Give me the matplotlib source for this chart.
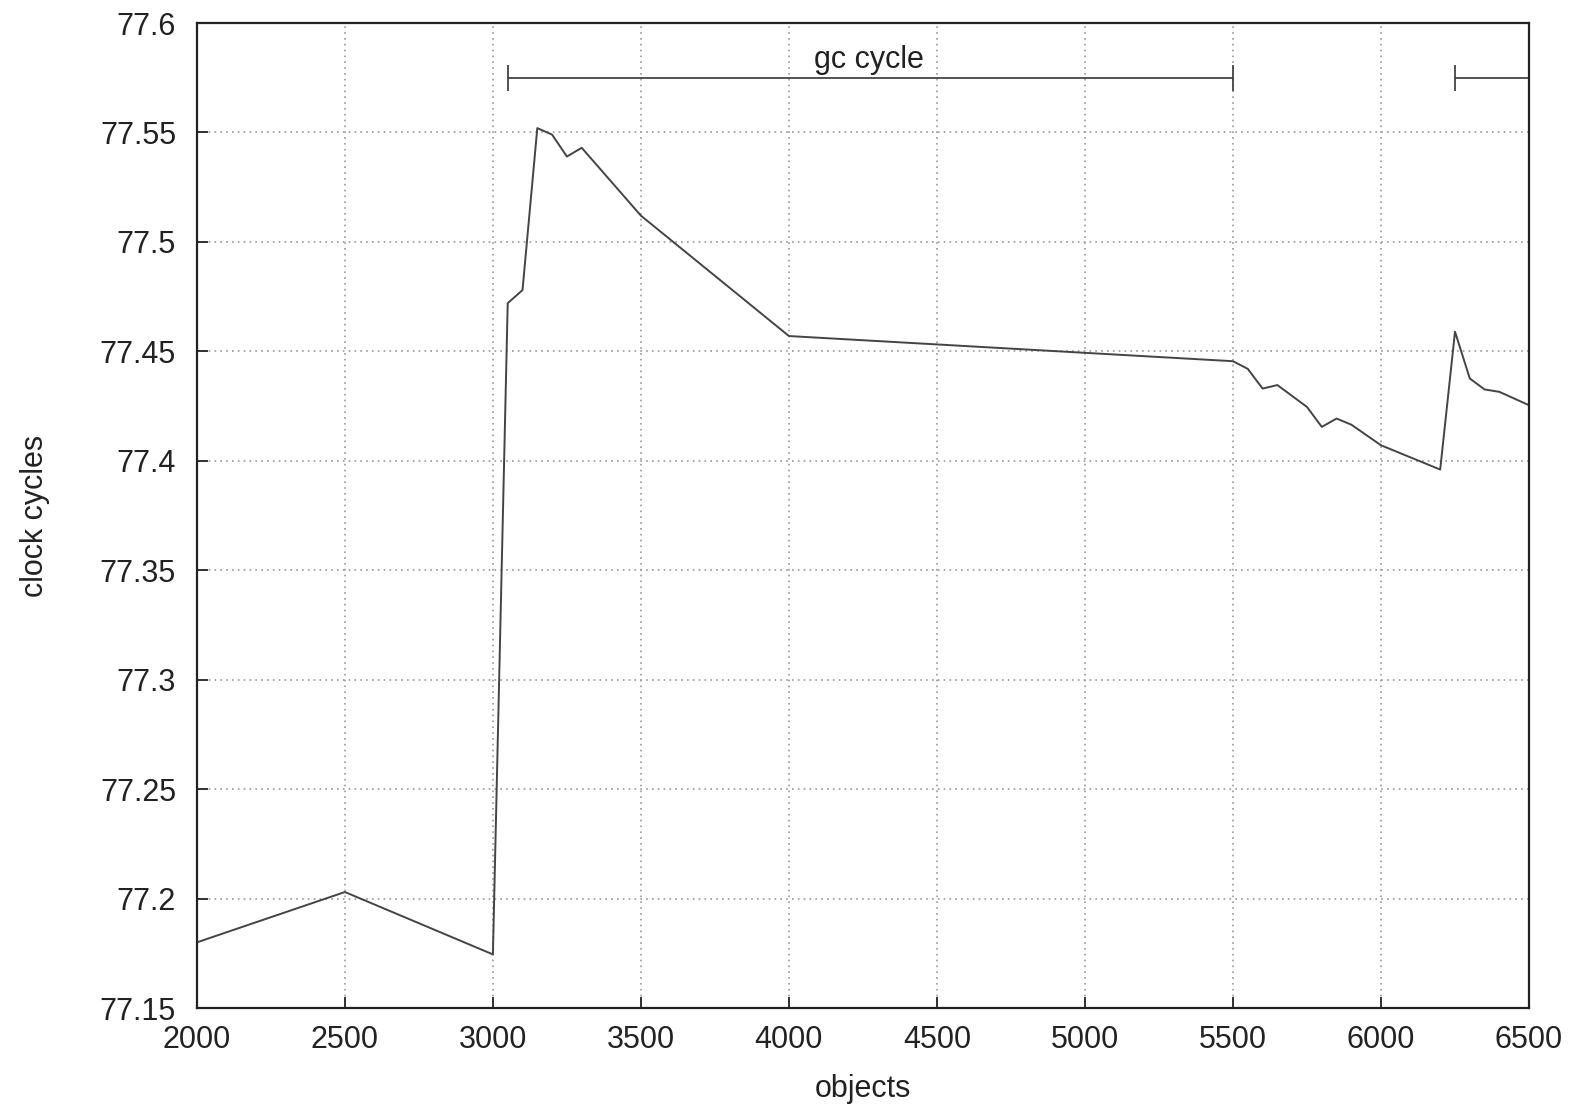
import matplotlib
matplotlib.use('Agg')
import matplotlib.pyplot as plt

plt.rcParams['font.family'] = ['Liberation Sans', 'DejaVu Sans']

# data
objects = [2000, 2500, 3000, 3050, 3100, 3150, 3200, 3250, 3300, 3500, 4000,
           5500, 5550, 5600, 5650, 5750, 5800, 5850, 5900, 6000, 6200, 6250,
           6300, 6350, 6400, 6500]
cycles = [77.180, 77.203, 77.1745, 77.472, 77.478, 77.552, 77.549, 77.539, 77.543,
          77.512, 77.457, 77.4455, 77.442, 77.433, 77.4346, 77.4246, 77.4155,
          77.4193, 77.4165, 77.4071, 77.396, 77.459, 77.4376, 77.4326, 77.4315,
          77.4254]

gc_start = [3050, 6250]
gc_end = [5500, 6500]
gc_level = 77.575

fig = plt.figure(figsize=(15.75, 11.07), dpi=100)
ax = fig.add_axes([0.125, 0.0894, 0.8458, 0.8898])

ax.plot(objects, cycles, color='#444444', lw=1.4)

# gc cycle markers
ax.hlines([gc_level] * len(gc_start), gc_start, gc_end, color='#444444', lw=1.3)
ax.vlines([3050, 5500, 6250], gc_level - 0.006, gc_level + 0.006, color='#444444', lw=1.3)
ax.text(4270, 77.583, 'gc cycle', ha='center', va='center', fontsize=22, color='#222222')

ax.set_xlim(2000, 6500)
ax.set_ylim(77.15, 77.6)
ax.set_xticks(range(2000, 6501, 500))
ax.set_yticks([77.15, 77.2, 77.25, 77.3, 77.35, 77.4, 77.45, 77.5, 77.55, 77.6])
ax.set_yticklabels(['77.15', '77.2', '77.25', '77.3', '77.35', '77.4', '77.45',
                    '77.5', '77.55', '77.6'])

ax.grid(True, linestyle=(0, (1, 2.5)), color='#999999', lw=1.2)
ax.tick_params(direction='in', length=8, width=1.3, labelsize=22, colors='#222222')
ax.tick_params(axis='x', pad=12)
ax.tick_params(axis='y', pad=15)
for s in ax.spines.values():
    s.set_linewidth(1.6)
    s.set_color('#222222')

ax.set_xlabel('objects', fontsize=22, color='#222222', labelpad=14)
ax.set_ylabel('clock cycles', fontsize=22, color='#222222', labelpad=36)

fig.savefig('out.png', dpi=100)
